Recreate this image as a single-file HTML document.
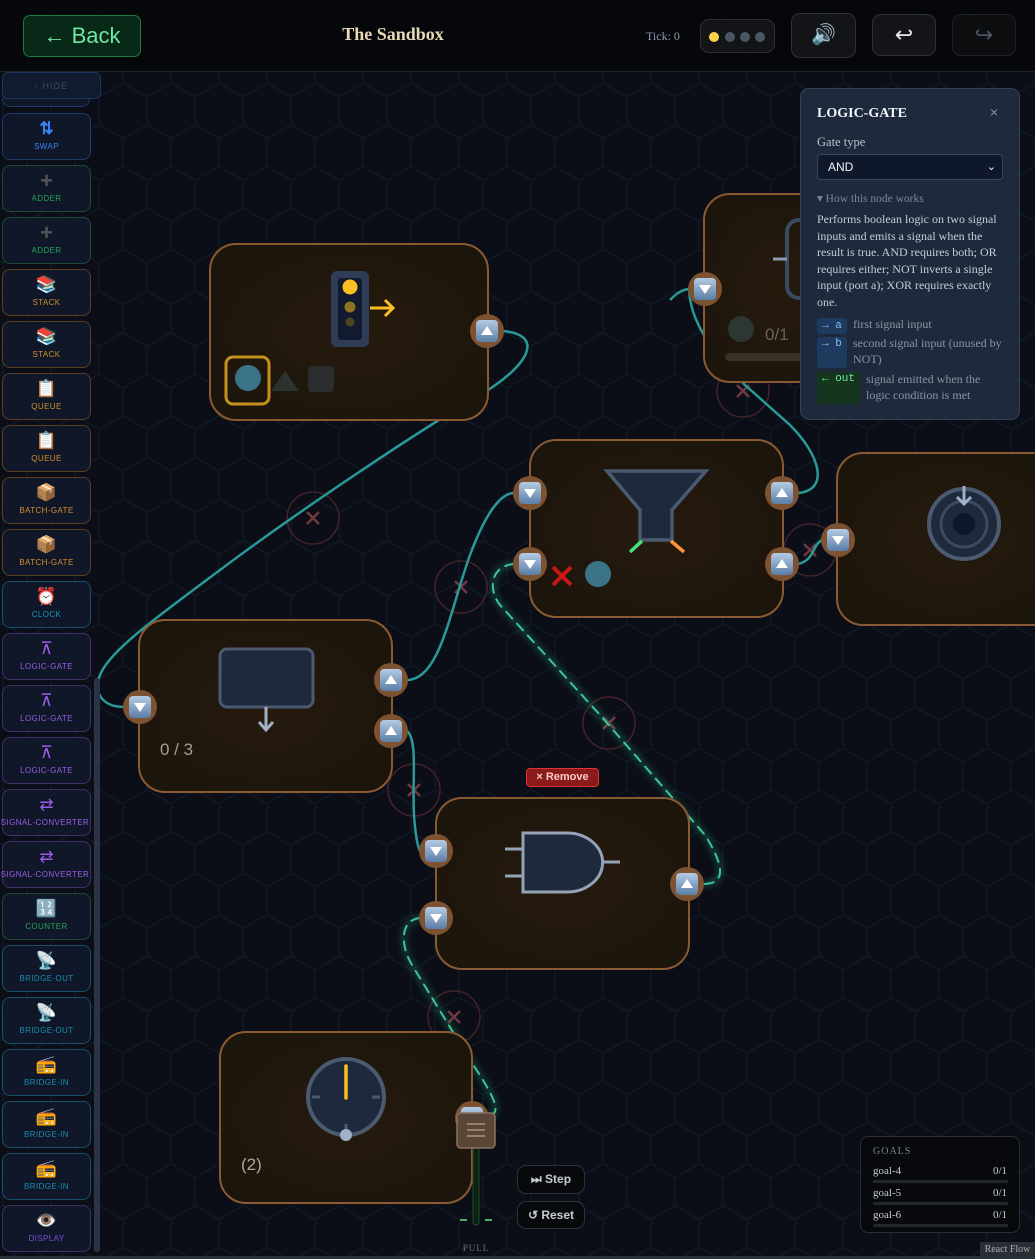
<!DOCTYPE html>
<html><head><meta charset="utf-8"><style>
*{box-sizing:border-box;margin:0;padding:0}
body{width:1035px;height:1259px;overflow:hidden;background:#0b0e16;font-family:"Liberation Sans",sans-serif;position:relative}
.abs{position:absolute}
.btn{position:absolute;border-radius:9px;background:#121417;border:1px solid #2e3238}
.side{position:absolute;left:2px;width:89px;height:47px;border-radius:8px;background:#0f1729;border:1px solid;text-align:center}
.side .ic{font-size:17px;line-height:17px;margin-top:6px;height:20px}
.side .lb{font-size:8px;letter-spacing:.4px;margin-top:2px}
.serif{font-family:"Liberation Serif",serif}
.panel{left:800px;top:88px;width:220px;height:332px;background:#1e293b;border:1px solid #334155;border-radius:9px;color:#cbd5e1}
.tag{position:absolute;font-family:"Liberation Mono",monospace;font-size:11px;border-radius:3px;padding:1px 5px}
</style></head><body>
<svg class="abs" style="left:0;top:0" width="1035" height="1259">
<defs>
<pattern id="hex" width="48" height="83.14" patternUnits="userSpaceOnUse" x="3" y="0">
<path d="M0,13.86 L24,0 L48,13.86 M24,0 L24,-14 M0,13.86 L0,41.57 L24,55.43 L48,41.57 L48,13.86 M24,55.43 L24,83.14" fill="none" stroke="#111e2d" stroke-width="1"/>
</pattern>
<radialGradient id="ng" cx="50%" cy="50%" r="60%"><stop offset="0" stop-color="#261a0d"/><stop offset="1" stop-color="#1c150c"/></radialGradient>
<linearGradient id="pg" x1="0" y1="0" x2="0" y2="1"><stop offset="0" stop-color="#b4cbe4"/><stop offset="1" stop-color="#5b7ea6"/></linearGradient>
<filter id="glow"><feGaussianBlur stdDeviation="3"/></filter>
<g id="pu"><circle r="17" fill="#7d5230"/><rect x="-11" y="-11" width="22" height="22" rx="4" fill="url(#pg)"/><path d="M-6,4 L6,4 L0,-5Z" fill="#fff"/></g>
<g id="pd"><circle r="17" fill="#7d5230"/><rect x="-11" y="-11" width="22" height="22" rx="4" fill="url(#pg)"/><path d="M-6,-4 L6,-4 L0,5Z" fill="#fff"/></g>
<g id="xm"><circle r="26" fill="none" stroke="#43222a" stroke-width="1.5"/><path d="M-6,-6 L6,6 M6,-6 L-6,6" stroke="#6e3a40" stroke-width="2.5"/></g>
</defs>
<rect x="0" y="71" width="1035" height="1188" fill="#0b0e16"/>
<rect x="0" y="0" width="1035" height="1259" fill="url(#hex)"/>
<rect x="0" y="0" width="1035" height="71" fill="#050608" opacity="0.85"/>
<line x1="0" y1="71.5" x2="1035" y2="71.5" stroke="#1a2230"/>

<use href="#xm" x="313" y="518"/><use href="#xm" x="461" y="587"/><use href="#xm" x="609" y="723"/>
<use href="#xm" x="414" y="790"/><use href="#xm" x="454" y="1017"/><use href="#xm" x="743" y="391"/><use href="#xm" x="810" y="550"/>

<g fill="none" stroke="#2a9a98" stroke-width="2.5">
<path d="M503,331 C545,335 530,365 480,395 C420,430 300,510 220,570 C160,615 110,650 100,675 C92,695 105,707 124,707"/>
<path d="M407,680 C440,680 450,610 470,555 C485,515 500,493 514,493"/>
<path d="M407,731 C418,740 412,780 414,815 C416,845 420,851 420,851"/>
<path d="M798,493 C830,490 820,455 790,425 L745,385 C710,350 690,320 689,289"/>
<path d="M689,289 C680,290 675,295 670,300"/>
<path d="M798,564 C815,560 812,545 822,540"/>
</g>
<g fill="none" stroke-linecap="round">
<path d="M514,564 C490,566 488,590 500,605 L600,715 L705,835 C730,875 720,884 703,884" stroke="#2fd49a" stroke-width="8" opacity="0.18" filter="url(#glow)"/>
<path d="M514,564 C490,566 488,590 500,605 L600,715 L705,835 C730,875 720,884 703,884" stroke="#3cc39a" stroke-width="2" stroke-dasharray="9 7"/>
<path d="M420,918 C400,920 400,945 412,965 L470,1060 C500,1105 500,1112 488,1118" stroke="#2fd49a" stroke-width="8" opacity="0.18" filter="url(#glow)"/>
<path d="M420,918 C400,920 400,945 412,965 L470,1060 C500,1105 500,1112 488,1118" stroke="#3cc39a" stroke-width="2" stroke-dasharray="9 7"/>
</g>

<g stroke="#8a5a32" stroke-width="2" fill="url(#ng)">
<rect x="210" y="244" width="278" height="176" rx="26"/>
<rect x="704" y="194" width="140" height="188" rx="26"/>
<rect x="530" y="440" width="253" height="177" rx="26"/>
<rect x="837" y="453" width="230" height="172" rx="26"/>
<rect x="139" y="620" width="253" height="172" rx="26"/>
<rect x="436" y="798" width="253" height="171" rx="26"/>
<rect x="220" y="1032" width="252" height="171" rx="26"/>
</g>

<rect x="331" y="271" width="38" height="76" rx="6" fill="#2e3d55"/>
<rect x="338" y="278" width="24" height="62" rx="3" fill="#111a2e"/>
<circle cx="350" cy="287" r="7.5" fill="#fbbf24"/><circle cx="350" cy="307" r="5.5" fill="#8f7320"/><circle cx="350" cy="322" r="4.5" fill="#524523"/>
<path d="M370,308 L392,308 M385,300 L393,308 L385,316" stroke="#fbbf24" stroke-width="3" fill="none"/>
<rect x="226" y="357" width="43" height="47" rx="7" fill="none" stroke="#c4921c" stroke-width="3"/>
<circle cx="248" cy="378" r="13" fill="#3b7487"/>
<path d="M285,371 L271,391 L299,391Z" fill="#2a332e"/>
<rect x="308" y="366" width="26" height="26" rx="4" fill="#2a2c2e"/>
<use href="#pu" x="487" y="331"/>

<rect x="787" y="220" width="30" height="78" rx="12" fill="none" stroke="#3a4a60" stroke-width="4"/>
<line x1="773" y1="259" x2="787" y2="259" stroke="#8a9ab0" stroke-width="3"/>
<circle cx="741" cy="329" r="13" fill="#2c3632"/>
<text x="765" y="340" fill="#6b6355" font-size="17">0/1</text>
<rect x="725" y="353" width="90" height="8" rx="4" fill="#3a3028"/>
<use href="#pd" x="705" y="289"/>

<path d="M607,471 L706,471 L672,510 L672,540 L640,540 L640,510 Z" fill="#1e293b" stroke="#4a5a70" stroke-width="3.5"/>
<path d="M642,541 L630,552" stroke="#4ade80" stroke-width="3.5"/>
<path d="M671,541 L684,552" stroke="#fb923c" stroke-width="3.5"/>
<path d="M553,567 L571,585 M571,567 L553,585" stroke="#c81818" stroke-width="4"/>
<circle cx="598" cy="574" r="13" fill="#3b7487"/>
<use href="#pd" x="530" y="493"/><use href="#pd" x="530" y="564"/>
<use href="#pu" x="782" y="493"/><use href="#pu" x="782" y="564"/>

<circle cx="964" cy="524" r="35" fill="#1e293b" stroke="#4a5a70" stroke-width="4"/>
<circle cx="964" cy="524" r="23" fill="none" stroke="#3a4a60" stroke-width="3"/>
<circle cx="964" cy="524" r="11" fill="#0f172a"/>
<path d="M964,486 L964,503 M957,497 L964,504 L971,497" stroke="#a0b0c8" stroke-width="3" fill="none"/>
<use href="#pd" x="838" y="540"/>

<rect x="220" y="649" width="93" height="58" rx="7" fill="#1e293b" stroke="#4a5a70" stroke-width="3"/>
<path d="M266,707 L266,729 M259,722 L266,730 L273,722" stroke="#a0b0c8" stroke-width="3" fill="none"/>
<text x="160" y="755" fill="#a89e8a" font-size="17">0 / 3</text>
<use href="#pd" x="140" y="707"/>
<use href="#pu" x="391" y="680"/><use href="#pu" x="391" y="731"/>

<path d="M505,849 L523,849 M505,876 L523,876 M602,862 L620,862" stroke="#94a3b8" stroke-width="3"/>
<path d="M523,833 L567,833 A35,29 0 0 1 567,892 L523,892 Z" fill="#1e293b" stroke="#94a3b8" stroke-width="3"/>
<use href="#pd" x="436" y="851"/><use href="#pd" x="436" y="918"/>
<use href="#pu" x="687" y="884"/>

<circle cx="346" cy="1097" r="38" fill="#1e293b" stroke="#4a5a70" stroke-width="4"/>
<line x1="346" y1="1066" x2="346" y2="1098" stroke="#fbbf24" stroke-width="3.5" stroke-linecap="round"/>
<path d="M312,1097 L320,1097 M372,1097 L380,1097 M346,1124 L346,1131" stroke="#4a5a70" stroke-width="3"/>
<circle cx="346" cy="1135" r="6" fill="#a0b0c8"/>
<text x="241" y="1170" fill="#b0a690" font-size="17">(2)</text>
<use href="#pu" x="472" y="1118"/>

<rect x="473" y="1140" width="6" height="85" rx="3" fill="#0e2214" stroke="#1f4a2c"/>
<path d="M460,1220 L467,1220 M485,1220 L492,1220" stroke="#4fae6a" stroke-width="2"/>
<rect x="457" y="1113" width="38" height="35" rx="4" fill="#5a4636" stroke="#8a7262" stroke-width="1.5"/>
<path d="M467,1124 L485,1124 M467,1130 L485,1130 M467,1136 L485,1136" stroke="#a89480" stroke-width="1.5"/>
<text x="476" y="1251" fill="#6b7280" font-size="9" text-anchor="middle" font-family="Liberation Serif" letter-spacing="1">PULL</text>

<rect x="94" y="678" width="6" height="574" rx="3" fill="#2a3444"/>
</svg>

<div class="abs" style="left:23px;top:15px;width:118px;height:42px;border-radius:7px;background:#082818;border:1px solid #1f7a3f;color:#6ee7a0;font-size:22px;line-height:40px;text-align:center">← Back</div>
<div class="abs serif" style="left:296px;top:24px;width:194px;text-align:center;color:#e8d9b5;font-size:18px;font-weight:bold">The Sandbox</div>
<div class="abs serif" style="left:646px;top:29px;color:#8a9ab0;font-size:12px">Tick: 0</div>
<div class="btn" style="left:700px;top:19px;width:75px;height:34px">
<span class="abs" style="left:8px;top:12px;width:10px;height:10px;border-radius:50%;background:#fcd34d"></span>
<span class="abs" style="left:24px;top:12px;width:10px;height:10px;border-radius:50%;background:#4b5563"></span>
<span class="abs" style="left:39px;top:12px;width:10px;height:10px;border-radius:50%;background:#4b5563"></span>
<span class="abs" style="left:54px;top:12px;width:10px;height:10px;border-radius:50%;background:#4b5563"></span></div>
<div class="btn" style="left:791px;top:13px;width:65px;height:45px;text-align:center;font-size:20px;line-height:43px;color:#9ab">🔊</div>
<div class="btn" style="left:872px;top:14px;width:64px;height:42px;text-align:center;font-size:22px;line-height:40px;color:#e5e7eb">↩</div>
<div class="btn" style="left:952px;top:14px;width:64px;height:42px;text-align:center;font-size:22px;line-height:40px;color:#4b5563;background:#0c0e10;border-color:#1e2126">↪</div>

<div class="abs" style="left:2px;top:98px;width:88px;height:9px;border:1px solid #1e3a6a;border-top:none;border-radius:0 0 8px 8px;background:#0f1729"></div>
<div class="abs" style="left:2px;top:72px;width:99px;height:27px;border-radius:6px;background:#111a2e;border:1px solid #1e3560;color:#3c4a66;font-size:9px;letter-spacing:1px;text-align:center;line-height:26px">‹ HIDE</div>
<div class="side" style="top:113px;border-color:#1e3a6a;color:#3b82f6"><div class="ic" style="font-weight:bold">⇅</div><div class="lb">SWAP</div></div>
<div class="side" style="top:165px;border-color:#1d4a38;color:#22a55a"><div class="ic" style="color:#555;font-weight:bold;font-size:22px">+</div><div class="lb">ADDER</div></div>
<div class="side" style="top:217px;border-color:#1d4a38;color:#22a55a"><div class="ic" style="color:#555;font-weight:bold;font-size:22px">+</div><div class="lb">ADDER</div></div>
<div class="side" style="top:269px;border-color:#5a3f1f;color:#d4912a"><div class="ic">📚</div><div class="lb">STACK</div></div>
<div class="side" style="top:321px;border-color:#5a3f1f;color:#d4912a"><div class="ic">📚</div><div class="lb">STACK</div></div>
<div class="side" style="top:373px;border-color:#5a3f1f;color:#d4912a"><div class="ic">📋</div><div class="lb">QUEUE</div></div>
<div class="side" style="top:425px;border-color:#5a3f1f;color:#d4912a"><div class="ic">📋</div><div class="lb">QUEUE</div></div>
<div class="side" style="top:477px;border-color:#5a3f1f;color:#d4912a"><div class="ic">📦</div><div class="lb">BATCH-GATE</div></div>
<div class="side" style="top:529px;border-color:#5a3f1f;color:#d4912a"><div class="ic">📦</div><div class="lb">BATCH-GATE</div></div>
<div class="side" style="top:581px;border-color:#17506a;color:#1a9ac0"><div class="ic">⏰</div><div class="lb">CLOCK</div></div>
<div class="side" style="top:633px;border-color:#40306a;color:#9b5de5"><div class="ic">⊼</div><div class="lb">LOGIC-GATE</div></div>
<div class="side" style="top:685px;border-color:#40306a;color:#9b5de5"><div class="ic">⊼</div><div class="lb">LOGIC-GATE</div></div>
<div class="side" style="top:737px;border-color:#40306a;color:#9b5de5"><div class="ic">⊼</div><div class="lb">LOGIC-GATE</div></div>
<div class="side" style="top:789px;border-color:#40306a;color:#9b5de5"><div class="ic">⇄</div><div class="lb" style="white-space:nowrap;margin-left:-3px">SIGNAL-CONVERTER</div></div>
<div class="side" style="top:841px;border-color:#40306a;color:#9b5de5"><div class="ic">⇄</div><div class="lb" style="white-space:nowrap;margin-left:-3px">SIGNAL-CONVERTER</div></div>
<div class="side" style="top:893px;border-color:#1d4a38;color:#22a55a"><div class="ic">🔢</div><div class="lb">COUNTER</div></div>
<div class="side" style="top:945px;border-color:#17506a;color:#1a8fb0"><div class="ic">📡</div><div class="lb">BRIDGE-OUT</div></div>
<div class="side" style="top:997px;border-color:#17506a;color:#1a8fb0"><div class="ic">📡</div><div class="lb">BRIDGE-OUT</div></div>
<div class="side" style="top:1049px;border-color:#17506a;color:#1a8fb0"><div class="ic">📻</div><div class="lb">BRIDGE-IN</div></div>
<div class="side" style="top:1101px;border-color:#17506a;color:#1a8fb0"><div class="ic">📻</div><div class="lb">BRIDGE-IN</div></div>
<div class="side" style="top:1153px;border-color:#17506a;color:#1a8fb0"><div class="ic">📻</div><div class="lb">BRIDGE-IN</div></div>
<div class="side" style="top:1205px;border-color:#40306a;color:#7c4ddc"><div class="ic">👁️</div><div class="lb">DISPLAY</div></div>

<div class="abs" style="left:526px;top:768px;width:73px;height:19px;border-radius:4px;background:#8b1a1a;border:1px solid #d33;color:#fbcaca;font-size:11px;font-weight:bold;text-align:center;line-height:17px">× Remove</div>

<div class="btn" style="left:517px;top:1165px;width:68px;height:29px;background:#07090c;color:#c8ccd2;font-size:12px;font-weight:bold;text-align:center;line-height:27px">⏭ Step</div>
<div class="btn" style="left:517px;top:1201px;width:68px;height:28px;background:#07090c;color:#c8ccd2;font-size:12px;font-weight:bold;text-align:center;line-height:26px">↺ Reset</div>

<div class="abs serif" style="left:860px;top:1136px;width:160px;height:97px;border-radius:8px;background:#07090c;border:1px solid #2a2e34;color:#c8ccd2;font-size:11px">
<div class="abs" style="left:12px;top:9px;color:#7a8290;font-size:10px;letter-spacing:1px">GOALS</div>
<div class="abs" style="left:12px;top:28px">goal-4</div><div class="abs" style="right:12px;top:28px">0/1</div>
<div class="abs" style="left:12px;top:43px;width:135px;height:3px;background:#23272d;border-radius:2px"></div>
<div class="abs" style="left:12px;top:50px">goal-5</div><div class="abs" style="right:12px;top:50px">0/1</div>
<div class="abs" style="left:12px;top:65px;width:135px;height:3px;background:#23272d;border-radius:2px"></div>
<div class="abs" style="left:12px;top:72px">goal-6</div><div class="abs" style="right:12px;top:72px">0/1</div>
<div class="abs" style="left:12px;top:87px;width:135px;height:3px;background:#23272d;border-radius:2px"></div>
</div>
<div class="abs serif" style="left:980px;top:1242px;width:55px;height:15px;background:#2a2e34;color:#aab;font-size:10px;text-align:center;line-height:15px">React Flow</div>
<div class="abs" style="left:0;top:1256px;width:1035px;height:3px;background:#2a3038"></div>

<div class="abs panel serif">
<div class="abs" style="left:16px;top:17px;font-size:14px;font-weight:bold;color:#f1f5f9">LOGIC-GATE</div>
<div class="abs" style="left:189px;top:15px;font-size:14px;color:#8a94a4;font-family:'Liberation Sans'">×</div>
<div class="abs" style="left:16px;top:46px;font-size:12.5px;color:#b8c2d0">Gate type</div>
<div class="abs" style="left:16px;top:65px;width:186px;height:26px;background:#0f172a;border:1px solid #3a4658;border-radius:4px;font-family:'Liberation Sans';font-size:12px;color:#f1f5f9;line-height:24px;padding-left:10px">AND<span class="abs" style="right:6px;top:0;font-size:11px">⌄</span></div>
<div class="abs" style="left:16px;top:102px;font-size:11.5px;color:#7a8698">▾ How this node works</div>
<div class="abs" style="left:16px;top:122px;width:190px;font-size:12px;line-height:16.6px;color:#c4ccd8">Performs boolean logic on two signal inputs and emits a signal when the result is true. AND requires both; OR requires either; NOT inverts a single input (port a); XOR requires exactly one.</div>
<div class="tag" style="left:16px;top:229px;width:30px;background:#1e3a5f;color:#7cc0f0;height:16px;line-height:14px">→ a</div>
<div class="abs" style="left:52px;top:228px;font-size:12px;color:#8a94a4">first signal input</div>
<div class="tag" style="left:16px;top:248px;width:30px;background:#1e3a5f;color:#7cc0f0;height:31px">→ b</div>
<div class="abs" style="left:52px;top:246px;width:152px;font-size:12px;line-height:16px;color:#8a94a4">second signal input (unused by NOT)</div>
<div class="tag" style="left:16px;top:283px;width:43px;background:#14361d;color:#6ee7a0;height:32px">← out</div>
<div class="abs" style="left:65px;top:282px;width:130px;font-size:12px;line-height:16px;color:#8a94a4">signal emitted when the logic condition is met</div>
</div>
</body></html>
